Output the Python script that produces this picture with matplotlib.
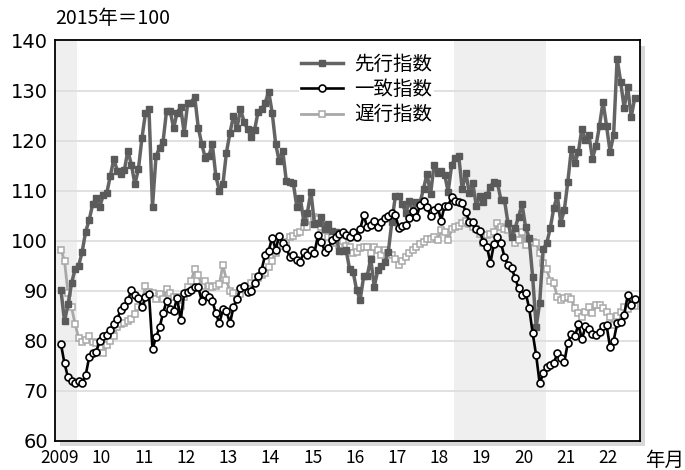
import numpy as np
import matplotlib.pyplot as plt
from matplotlib.patches import Rectangle
from matplotlib import font_manager

plt.rcParams['font.family'] = ['Noto Sans CJK JP', 'DejaVu Sans']

# monthly values, Jan 2009 - Aug 2022 (2015 = 100)
leading = [
    90.1, 83.9, 87.3, 91.5, 94.3, 95.0, 97.7, 101.8, 104.1, 107.3, 108.5, 106.7,
    109.1, 109.5, 112.9, 116.3, 114.0, 113.3, 114.1, 118.0, 115.2, 111.3, 114.3, 120.5,
    125.5, 126.3, 106.8, 116.9, 118.5, 119.8, 126.0, 126.0, 122.5, 125.6, 126.7, 121.5,
    127.5, 127.6, 128.8, 122.6, 119.3, 116.5, 116.9, 119.3, 112.9, 110.0, 111.3, 117.6,
    121.5, 124.9, 122.5, 126.3, 123.8, 122.3, 120.7, 122.1, 125.8, 126.3, 127.5, 129.8,
    125.6, 119.3, 115.9, 118.0, 112.0, 111.7, 111.5, 106.8, 108.5, 103.8, 105.6, 109.8,
    103.4, 103.6, 104.7, 102.4, 103.3, 101.9, 101.7, 98.0, 98.0, 98.2, 94.3, 93.8,
    90.1, 88.2, 92.9, 93.0, 96.4, 90.8, 94.1, 94.9, 95.7, 97.8, 103.8, 108.9,
    109.0, 107.3, 105.6, 108.0, 105.7, 107.8, 107.6, 110.4, 113.4, 109.3, 115.2, 113.6,
    114.0, 113.2, 109.8, 115.1, 116.6, 116.9, 110.3, 113.6, 109.6, 111.5, 106.9, 109.0,
    107.8, 109.1, 110.8, 111.8, 111.6, 108.1, 108.1, 103.5, 100.8, 102.5, 104.8, 107.3,
    102.7, 100.6, 92.8, 82.8, 87.6, 98.4, 99.5, 102.5, 106.5, 109.1, 103.6, 106.1,
    111.8, 118.3, 115.5, 117.8, 122.4, 120.1, 121.1, 116.4, 119.0, 123.0, 127.8, 122.9,
    117.8, 121.1, 136.4, 131.8, 126.5, 130.8, 124.7, 128.5,
]
coincident = [
    79.3, 75.5, 72.7, 72.0, 71.5, 72.0, 71.6, 73.1, 76.7, 77.5, 77.8, 80.0,
    80.9, 81.1, 82.1, 83.4, 84.4, 86.2, 87.0, 88.1, 90.1, 89.2, 88.5, 86.7,
    88.7, 89.4, 78.4, 80.7, 82.7, 85.5, 88.0, 86.3, 86.0, 88.6, 84.1, 89.5,
    89.8, 90.2, 90.7, 90.7, 88.0, 89.4, 88.8, 88.0, 85.5, 83.5, 86.3, 86.0,
    83.5, 86.7, 88.3, 90.5, 90.9, 89.7, 90.0, 91.6, 93.0, 94.2, 97.2, 98.0,
    100.6, 98.2, 101.0, 99.5, 98.5, 96.8, 97.1, 96.1, 95.8, 97.8, 97.1, 98.1,
    97.5, 101.1, 99.8, 97.8, 98.5, 100.1, 100.8, 101.3, 101.8, 101.1, 100.8, 101.8,
    100.8, 102.3, 105.1, 102.7, 103.1, 104.0, 102.7, 103.8, 104.5, 104.9, 105.6, 105.1,
    102.5, 102.9, 103.1, 104.5, 106.0, 104.7, 107.1, 108.0, 106.7, 104.9, 106.1, 106.8,
    104.0, 107.0, 106.9, 108.8, 108.0, 107.7, 107.5, 105.8, 103.8, 103.7, 102.3, 101.9,
    99.8, 98.8, 95.6, 99.3, 100.7, 99.5, 96.8, 95.2, 94.6, 92.6, 90.5, 89.2,
    89.6, 86.6, 81.6, 77.1, 71.5, 73.5, 74.8, 75.1, 75.5, 77.5, 76.5, 75.8,
    79.6, 81.3, 80.9, 83.3, 80.3, 82.9, 82.3, 81.3, 81.1, 81.8, 82.9, 83.1,
    78.7, 80.0, 83.5, 83.8, 85.1, 89.1, 87.1, 88.3,
]
lagging = [
    98.2, 96.0, 89.5, 86.7, 83.4, 80.6, 79.8, 80.2, 80.9, 79.8, 79.6, 78.7,
    77.5, 79.1, 79.9, 80.9, 82.8, 83.3, 83.5, 83.9, 84.3, 85.3, 86.7, 87.8,
    91.0, 89.7, 89.5, 88.3, 89.3, 88.3, 90.3, 89.5, 88.7, 88.8, 87.0, 88.7,
    90.8, 92.0, 94.3, 93.2, 91.0, 92.0, 91.0, 90.7, 91.0, 91.3, 95.2, 92.1,
    90.0, 89.5, 88.3, 89.3, 90.3, 91.0, 91.5, 92.8, 92.6, 93.2, 93.6, 94.8,
    96.0, 97.5, 99.3, 98.9, 99.8, 100.8, 100.9, 101.5, 101.8, 102.8, 102.8, 104.3,
    104.8, 104.3, 102.8, 102.1, 100.8, 100.7, 99.5, 99.1, 100.0, 98.9, 98.7, 97.5,
    97.8, 98.5, 98.7, 98.8, 97.6, 98.7, 98.1, 97.1, 98.1, 97.5, 97.1, 96.3,
    95.1, 96.0, 96.8, 97.5, 98.1, 98.8, 99.3, 99.8, 100.3, 100.3, 100.7, 100.1,
    102.1, 101.8, 100.1, 102.3, 102.7, 102.9, 103.6, 104.0, 103.3, 102.8, 102.3, 101.3,
    99.5, 101.1, 101.3, 101.8, 103.5, 102.8, 102.3, 102.1, 101.6, 99.6, 100.1, 101.8,
    99.1, 100.3, 99.8, 99.5, 97.6, 95.5, 94.3, 92.0, 91.5, 88.8, 88.1, 88.5,
    88.7, 88.3, 86.5, 85.5, 84.8, 85.8, 86.8, 85.5, 87.1, 87.1, 86.5, 85.8,
    84.8, 83.1, 84.9, 85.8, 86.7, 86.3, 88.1, 86.9,
]
year_labels = ['2009', '10', '11', '12', '13', '14', '15', '16', '17', '18',
               '19', '20', '21', '22']

W, H = 685, 470
fig = plt.figure(figsize=(W / 100, H / 100), dpi=100)
ax = fig.add_axes([55 / W, 1 - 441 / H, 585 / W, 400.5 / H])
ax.set_zorder(2)

# drop shadow behind the frame
fig.patches.append(Rectangle((60 / W, 1 - 446 / H), 585 / W, 400 / H,
                             transform=fig.transFigure, facecolor='#d8d8d8',
                             edgecolor='none', zorder=1))

x = np.arange(len(leading))

# shaded periods
ax.axvspan(-1.7, 4.5, color='#efefef', zorder=0, lw=0)
ax.axvspan(111.6, 137.8, color='#efefef', zorder=0, lw=0)

for v in range(70, 140, 10):
    ax.axhline(v, color='#dcdcdc', lw=1.2, zorder=0.5)

ax.plot(x, lagging, color='#a8a8a8', lw=2, marker='s', ms=4.5,
        mfc='white', mec='#a8a8a8', mew=1.1, zorder=2, label='遅行指数')
ax.plot(x, leading, color='#646464', lw=2.5, marker='s', ms=5,
        mfc='#5a5a5a', mec='#5a5a5a', zorder=3, label='先行指数')
ax.plot(x, coincident, color='black', lw=1.9, marker='o', ms=5,
        mfc='white', mec='black', mew=1.2, zorder=4, label='一致指数')

ax.set_xlim(-1.7, 164.5)
ax.set_ylim(60, 140)
ax.set_yticks(range(60, 141, 10))
ax.set_xticks(np.arange(len(year_labels)) * 12 - 0.5)
ax.set_xticklabels(year_labels)
ax.tick_params(axis='both', length=0)
ax.tick_params(axis='y', pad=5)
ax.tick_params(axis='x', pad=6)

installed = {f.name for f in font_manager.fontManager.ttflist}
narrow = 'Liberation Sans Narrow' if 'Liberation Sans Narrow' in installed else 'Noto Sans CJK JP'
for lab in ax.get_xticklabels():
    lab.set_family([narrow, 'DejaVu Sans'])
    lab.set_fontsize(14 if narrow != 'Noto Sans CJK JP' else 12.5)
for lab in ax.get_yticklabels():
    lab.set_family(['DejaVu Sans'])
    lab.set_fontsize(14)
for s in ax.spines.values():
    s.set_linewidth(1.3)
    s.set_color('black')

h, l = ax.get_legend_handles_labels()
order = [1, 2, 0]
leg = ax.legend([h[k] for k in order], [l[k] for k in order],
                loc='upper left', bbox_to_anchor=(0.40, 0.996),
                fontsize=14, handlelength=2.2, handletextpad=0.55,
                labelspacing=0.22, borderpad=0.1, frameon=True,
                facecolor='white', edgecolor='none', framealpha=1)

fig.text(55 / W, 1 - 18 / H, '2015年＝100', fontsize=14, va='center', ha='left')
fig.text(665 / W, 1 - 460 / H, '年月', fontsize=14, va='center', ha='center')

fig.savefig('out.png', dpi=100)
